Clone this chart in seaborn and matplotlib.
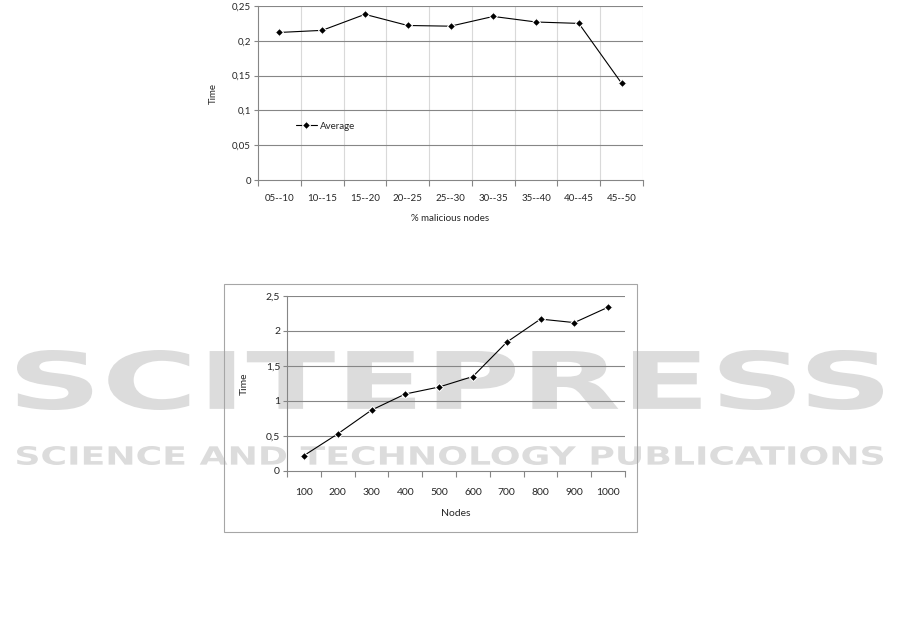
import matplotlib
matplotlib.use("Agg")
import matplotlib.pyplot as plt
import seaborn as sns
import pandas as pd
from matplotlib.textpath import TextPath
from matplotlib.patches import PathPatch, Rectangle
from matplotlib.font_manager import FontProperties
from matplotlib.transforms import Affine2D

# data
malicious_ranges = ["05--10", "10--15", "15--20", "20--25", "25--30",
                    "30--35", "35--40", "40--45", "45--50"]
avg_time = [0.212, 0.215, 0.238, 0.222, 0.221, 0.235, 0.227, 0.225, 0.139]
top_yticks = [0, 0.05, 0.1, 0.15, 0.2, 0.25]
top_ylabels = ["0", "0,05", "0,1", "0,15", "0,2", "0,25"]

node_counts = ["100", "200", "300", "400", "500", "600", "700", "800", "900", "1000"]
node_time = [0.22, 0.53, 0.87, 1.10, 1.20, 1.35, 1.84, 2.17, 2.12, 2.34]
bottom_yticks = [0, 0.5, 1, 1.5, 2, 2.5]
bottom_ylabels = ["0", "0,5", "1", "1,5", "2", "2,5"]

W, H = 901, 640

sns.set_style("white")
plt.rcParams["font.family"] = ["Lato", "DejaVu Sans"]

fig = plt.figure(figsize=(W / 100, H / 100), dpi=100)


def px_box(x0, y0, x1, y1):
    # pixel box (top-left origin) -> figure fraction [left, bottom, width, height]
    return [x0 / W, (H - y1) / H, (x1 - x0) / W, (y1 - y0) / H]


def add_watermark(text, x0, y0, x1, y1):
    tp = TextPath((0, 0), text, size=10,
                  prop=FontProperties(family="DejaVu Sans", weight="bold"))
    ext = tp.get_extents()
    tr = (Affine2D().translate(-ext.x0, -ext.y0)
          .scale((x1 - x0) / ext.width / W, (y1 - y0) / ext.height / H)
          .translate(x0 / W, (H - y1) / H))
    fig.add_artist(PathPatch(tp, transform=tr + fig.transFigure,
                             facecolor="#dcdcdc", edgecolor="none", zorder=0))


# publisher watermark behind both charts
add_watermark("SCITEPRESS", 17, 350, 883, 410)
add_watermark("SCIENCE AND TECHNOLOGY PUBLICATIONS", 17, 446, 883, 465)

grid_dark = "#868686"
grid_light = "#d9d9d9"

# ---- top chart ----
df_top = pd.DataFrame({"range": malicious_ranges, "time": avg_time})
ax1 = fig.add_axes(px_box(258, 6, 643, 180))
ax1.set_facecolor("none")
sns.lineplot(data=df_top, x="range", y="time", marker="D", markersize=4.5,
             color="black", linewidth=0.8, label="Average", sort=False, ax=ax1)
n = len(malicious_ranges)
ax1.set_xlim(-0.5, n - 0.5)
ax1.set_ylim(0, 0.25)
ax1.set_xticks(range(n))
ax1.set_xticklabels(malicious_ranges, fontsize=7)
ax1.set_xticks([i - 0.5 for i in range(n + 1)], minor=True)
ax1.tick_params(axis="x", which="major", length=0, pad=10)
ax1.tick_params(axis="x", which="minor", length=4, width=0.8, color=grid_dark,
                direction="out", bottom=True)
ax1.set_yticks(top_yticks)
ax1.set_yticklabels(top_ylabels, fontsize=7)
ax1.tick_params(axis="y", length=3, width=0.8, color=grid_dark, direction="out",
                left=True, pad=2)
for x in range(1, n + 1):
    ax1.axvline(x - 0.5, color=grid_light, linewidth=0.8, zorder=0)
for y in top_yticks[1:]:
    ax1.axhline(y, color=grid_dark, linewidth=0.8, zorder=0.5)
for s in ["top", "right"]:
    ax1.spines[s].set_visible(False)
for s in ["left", "bottom"]:
    ax1.spines[s].set_color(grid_dark)
    ax1.spines[s].set_linewidth(0.8)
ax1.set_xlabel("% malicious nodes", fontsize=7, labelpad=8)
ax1.set_ylabel("Time", fontsize=7, labelpad=10)
ax1.legend(loc="center left", bbox_to_anchor=(0.075, 0.31), frameon=False,
           fontsize=7, handlelength=2.2, handletextpad=0.3)

# ---- bottom chart ----
fig.add_artist(Rectangle((224 / W, (H - 532) / H), (637 - 224) / W, (532 - 284) / H,
                         transform=fig.transFigure, facecolor="none",
                         edgecolor="#a6a6a6", linewidth=0.8))
df_bot = pd.DataFrame({"nodes": node_counts, "time": node_time})
ax2 = fig.add_axes(px_box(287, 296, 625, 471))
ax2.set_facecolor("none")
sns.lineplot(data=df_bot, x="nodes", y="time", marker="D", markersize=4.5,
             color="black", linewidth=0.8, sort=False, ax=ax2)
m = len(node_counts)
ax2.set_xlim(-0.5, m - 0.5)
ax2.set_ylim(0, 2.5)
ax2.set_xticks(range(m))
ax2.set_xticklabels(node_counts, fontsize=7.5)
ax2.set_xticks([i - 0.5 for i in range(m + 1)], minor=True)
ax2.tick_params(axis="x", which="major", length=0, pad=12)
ax2.tick_params(axis="x", which="minor", length=4, width=0.8, color=grid_dark,
                direction="out", bottom=True)
ax2.set_yticks(bottom_yticks)
ax2.set_yticklabels(bottom_ylabels, fontsize=7.5)
ax2.tick_params(axis="y", length=3, width=0.8, color=grid_dark, direction="out",
                left=True, pad=2)
for y in bottom_yticks[1:]:
    ax2.axhline(y, color=grid_dark, linewidth=0.8, zorder=0.5)
for s in ["top", "right"]:
    ax2.spines[s].set_visible(False)
for s in ["left", "bottom"]:
    ax2.spines[s].set_color(grid_dark)
    ax2.spines[s].set_linewidth(0.8)
ax2.set_xlabel("Nodes", fontsize=7.5, labelpad=9)
ax2.set_ylabel("Time", fontsize=7.5, labelpad=12)

fig.savefig("out.png", dpi=100, facecolor="white")
